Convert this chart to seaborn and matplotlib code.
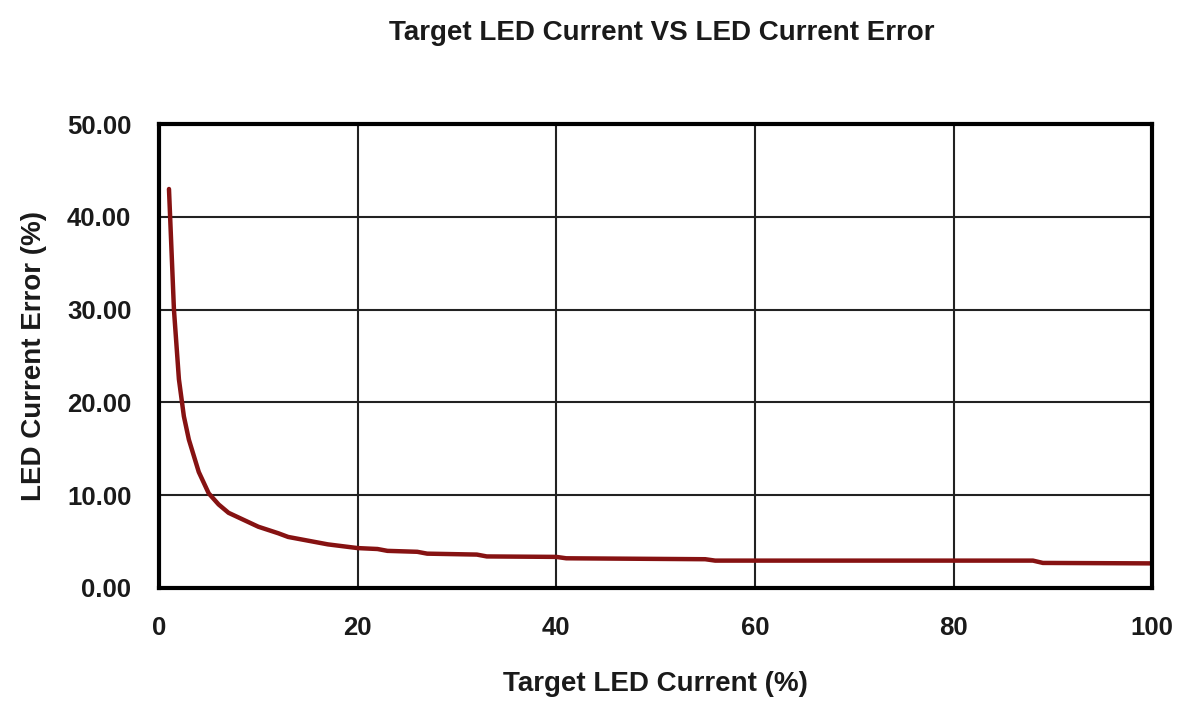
import matplotlib
matplotlib.use("Agg")
import matplotlib.pyplot as plt
import seaborn as sns
import pandas as pd

target_current = [1, 1.5, 2, 2.5, 3, 4, 5, 6, 7, 8, 10, 12, 13, 15, 17, 20,
                  22, 23, 26, 27, 32, 33, 40, 41, 55, 56, 88, 89, 100]
current_error = [43.0, 30.0, 22.5, 18.5, 16.0, 12.5, 10.2, 9.0, 8.1, 7.6, 6.6,
                 5.9, 5.5, 5.1, 4.7, 4.3, 4.2, 4.0, 3.9, 3.7, 3.6, 3.4, 3.35,
                 3.2, 3.1, 2.95, 2.95, 2.7, 2.65]
x_ticks = [0, 20, 40, 60, 80, 100]
y_ticks = [0, 10, 20, 30, 40, 50]
title = "Target LED Current VS LED Current Error"
x_label = "Target LED Current (%)"
y_label = "LED Current Error (%)"

sns.set_theme(style="white")
plt.rcParams['font.family'] = ['Liberation Sans', 'DejaVu Sans']

df = pd.DataFrame({"x": target_current, "y": current_error})

fig = plt.figure(figsize=(11.79, 7.04), dpi=100)
ax = fig.add_axes([0.1349, 0.1648, 0.8423, 0.659])
sns.lineplot(data=df, x="x", y="y", ax=ax, color="#861212", linewidth=3.2)

ax.set_xlim(0, 100)
ax.set_ylim(0, 50)
ax.set_xticks(x_ticks)
ax.set_yticks(y_ticks)
ax.set_xticklabels([str(v) for v in x_ticks], fontsize=18.5, fontweight="bold", color="#1a1a1a")
ax.set_yticklabels([f"{v:.2f}" for v in y_ticks], fontsize=18.5, fontweight="bold", color="#1a1a1a")
ax.tick_params(axis="y", length=0, pad=20)
ax.tick_params(axis="x", length=0, pad=20)
ax.grid(True, color="#222222", linewidth=1.5)
for s in ax.spines.values():
    s.set_color("black")
    s.set_linewidth(3)
ax.set_xlabel(x_label, fontsize=20, fontweight="bold", color="#1a1a1a", va="center")
ax.set_ylabel(y_label, fontsize=20, fontweight="bold", color="#1a1a1a", va="center")
ax.xaxis.set_label_coords(0.5, -0.207)
ax.yaxis.set_label_coords(-0.126, 0.5)
fig.text(0.561, 0.953, title, ha="center", va="center", fontsize=20, fontweight="bold", color="#1a1a1a")

fig.savefig("out.png", dpi=100, facecolor="white")
